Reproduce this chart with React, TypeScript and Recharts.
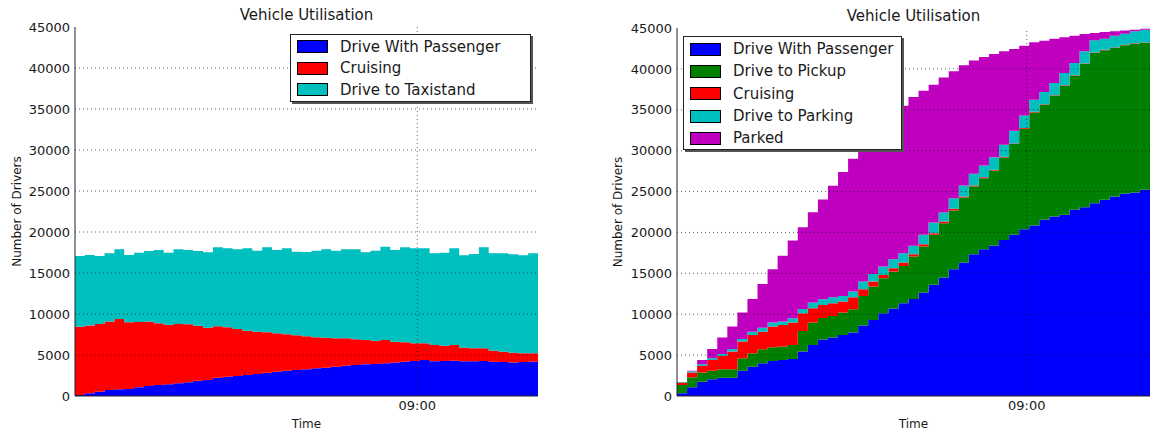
import React from 'react';
import { AreaChart, Area, XAxis, YAxis, ReferenceLine } from 'recharts';

// x is measured in 5-minute bins from the start of the run; 09:00 falls inside bin 34
const yTicks = [0, 5000, 10000, 15000, 20000, 25000, 30000, 35000, 40000, 45000];
const gridValues = [5000, 10000, 15000, 20000, 25000, 30000, 35000, 40000];
const timeTicks = [34.75];
const timeTickLabels = ['09:00'];

// left panel
const leftPassenger = [
  120, 325, 530, 730, 810, 850, 1060, 1220, 1340, 1420, 1540, 1670, 1870, 1950, 2240, 2360,
  2440, 2560, 2680, 2850, 2970, 3090, 3170, 3250, 3370, 3450, 3580, 3700, 3780, 3860, 3900, 3980,
  4100, 4190, 4270, 4390, 4230, 4270, 4310, 4230, 4230, 4270, 4190, 4150, 4100, 4150, 4190,
];
const leftCruising = [
  8330, 8260, 8250, 8370, 8580, 8130, 7960, 7850, 7520, 7280, 7240, 7070, 6710, 6380, 6260, 6010,
  5730, 5410, 5170, 4920, 4670, 4430, 4230, 4030, 3780, 3660, 3450, 3330, 3130, 2970, 2850, 2850,
  2530, 2350, 2150, 2030, 1990, 1870, 1910, 1660, 1580, 1540, 1340, 1260, 1180, 1050, 1010,
];
const leftTaxistand = [
  8620, 8610, 8290, 8300, 8500, 8210, 8460, 8610, 8940, 8780, 9110, 9060, 9100, 9190, 9630, 9640,
  9720, 10040, 9870, 10360, 10160, 10490, 10200, 10270, 10570, 10780, 10690, 10860, 10980, 10690, 10970, 11380,
  11170, 11590, 11590, 11590, 11180, 11340, 11790, 11260, 11510, 12320, 11870, 11990, 12000, 11950, 12200,
];

// right panel
const rightPassenger = [
  350, 1060, 1750, 2040, 2240, 2240, 3100, 3590, 4000, 4280, 4410, 4530, 5430, 6240, 6900, 7140,
  7470, 7750, 8610, 9300, 10120, 10690, 11340, 11870, 12650, 13590, 14480, 15500, 16320, 17340, 17950, 18400,
  19090, 19710, 20400, 20850, 21540, 21950, 22150, 22770, 23090, 23580, 23990, 24400, 24720, 24890, 25210,
];
const rightPickup = [
  1000, 1220, 1110, 1060, 1020, 1020, 1510, 1630, 1710, 1680, 1630, 1710, 2530, 2740, 2650, 2650,
  2730, 2860, 3630, 4080, 4280, 4530, 4570, 5180, 5630, 6120, 6650, 7180, 7960, 8280, 8690, 9180,
  10080, 11090, 12280, 13830, 14080, 14770, 15790, 16400, 17510, 18360, 18280, 18150, 18160, 18190, 17960,
];
const rightCruising = [
  300, 580, 810, 1310, 1640, 2170, 2040, 2250, 2160, 2530, 2650, 2740, 2160, 1750, 1590, 1550,
  1350, 1470, 820, 610, 410, 410, 410, 290, 280, 200, 210, 210, 120, 120, 100, 100,
  90, 80, 80, 70, 70, 70, 60, 60, 60, 60, 60, 60, 60, 60, 60,
];
const rightParking = [
  70, 160, 210, 200, 240, 320, 330, 400, 490, 490, 410, 530, 530, 690, 690, 740,
  690, 690, 930, 940, 1020, 1100, 1140, 1020, 1150, 1310, 1100, 1300, 1340, 1430, 1450, 1530,
  1460, 1560, 1550, 1480, 1480, 1480, 1490, 1490, 1490, 1490, 1370, 1450, 1370, 1460, 1570,
];
const rightParked = [
  0, 80, 530, 1140, 2000, 2740, 3220, 4000, 5350, 6520, 8040, 9500, 9990, 11060, 12200, 13640,
  15140, 16240, 16610, 17170, 17770, 18070, 18040, 18200, 17620, 16850, 16520, 15510, 14690, 13870, 13260, 12610,
  11430, 9990, 8530, 7020, 6280, 5430, 4370, 3340, 2120, 900, 810, 540, 370, 200, 120,
];

const FONT = '"DejaVu Sans", Verdana, sans-serif';
const TEXT = '#1a1a1a';

type Series = { key: string; name: string; color: string; values: number[] };

const leftSeries: Series[] = [
  { key: 'passenger', name: 'Drive With Passenger', color: '#0000ff', values: leftPassenger },
  { key: 'cruising', name: 'Cruising', color: '#ff0000', values: leftCruising },
  { key: 'taxistand', name: 'Drive to Taxistand', color: '#00bfbf', values: leftTaxistand },
];

const rightSeries: Series[] = [
  { key: 'passenger', name: 'Drive With Passenger', color: '#0000ff', values: rightPassenger },
  { key: 'pickup', name: 'Drive to Pickup', color: '#008000', values: rightPickup },
  { key: 'cruising', name: 'Cruising', color: '#ff0000', values: rightCruising },
  { key: 'parking', name: 'Drive to Parking', color: '#00bfbf', values: rightParking },
  { key: 'parked', name: 'Parked', color: '#bf00bf', values: rightParked },
];

const buildRows = (series: Series[]) => {
  const rows = series[0].values.map((_, i) => {
    const row: Record<string, number> = { t: i };
    series.forEach((s) => { row[s.key] = s.values[i]; });
    return row;
  });
  // closing point so the last step runs to the right spine
  rows.push({ ...rows[rows.length - 1], t: rows.length });
  return rows;
};

interface PanelProps {
  series: Series[];
  left: number;
  width: number;
  axisWidth: number;
  marginTop: number;
  marginRight: number;
  yLabelOffset: number;
  legend: { left: number; top: number; width: number; rowH: number };
}

const LegendBox = ({ series, rowH, style }: { series: Series[]; rowH: number; style: React.CSSProperties }) => (
  <div
    style={{
      position: 'absolute',
      background: '#fff',
      border: '1px solid #222',
      boxShadow: '2px 2px 0 #555',
      boxSizing: 'border-box',
      padding: '1px 0 0 6px',
      fontFamily: FONT,
      fontSize: 15,
      color: TEXT,
      ...style,
    }}
  >
    {series.map((s) => (
      <div key={s.key} style={{ display: 'flex', alignItems: 'center', height: rowH, whiteSpace: 'nowrap' }}>
        <span
          style={{
            display: 'inline-block',
            width: 31,
            height: 13,
            background: s.color,
            border: '1px solid #000',
            boxSizing: 'border-box',
            marginRight: 12,
          }}
        />
        <span>{s.name}</span>
      </div>
    ))}
  </div>
);

const Panel: React.FC<PanelProps> = ({ series, left, width, axisWidth, marginTop, marginRight, yLabelOffset, legend }) => {
  const rows = buildRows(series);
  const plotLeft = axisWidth;
  const plotRight = width - marginRight;
  return (
    <div style={{ position: 'absolute', left, top: 0, width, height: 433 }}>
      <div
        style={{
          position: 'absolute',
          left: plotLeft,
          width: plotRight - plotLeft,
          top: marginTop - 21,
          height: 18,
          lineHeight: '18px',
          textAlign: 'center',
          fontFamily: FONT,
          fontSize: 15,
          color: TEXT,
        }}
      >
        Vehicle Utilisation
      </div>
      <AreaChart
        width={width}
        height={433}
        data={rows}
        margin={{ top: marginTop, right: marginRight, bottom: 0, left: 0 }}
      >
        <XAxis
          dataKey="t"
          type="number"
          domain={[0, series[0].values.length]}
          ticks={timeTicks}
          tickFormatter={(v: number) => timeTickLabels[timeTicks.indexOf(v)] ?? ''}
          height={37}
          tickSize={0}
          tickMargin={5}
          tickLine={false}
          axisLine={{ stroke: '#222' }}
          tick={{ fill: TEXT, fontSize: 13, fontFamily: FONT }}
          allowDataOverflow
          label={{ value: 'Time', position: 'insideBottom', offset: 5, fill: TEXT, fontSize: 12, fontFamily: FONT }}
        />
        <XAxis xAxisId="top" orientation="top" dataKey="t" type="number" domain={[0, series[0].values.length]} height={0} tick={false} tickLine={false} axisLine={{ stroke: '#222' }} />
        <YAxis
          domain={[0, 45000]}
          ticks={yTicks}
          width={axisWidth}
          tickSize={0}
          tickMargin={5}
          tickLine={false}
          axisLine={{ stroke: '#222' }}
          tick={{ fill: TEXT, fontSize: 13, fontFamily: FONT }}
          allowDataOverflow
          label={{
            value: 'Number of Drivers',
            angle: -90,
            position: 'insideLeft',
            offset: yLabelOffset,
            fill: TEXT,
            fontSize: 12,
            fontFamily: FONT,
            style: { textAnchor: 'middle' },
          }}
        />
        <YAxis yAxisId="right" orientation="right" domain={[0, 45000]} width={0} tick={false} tickLine={false} axisLine={{ stroke: '#222' }} />

        {series.map((s) => (
          <Area
            key={s.key}
            type="stepAfter"
            dataKey={s.key}
            name={s.name}
            stackId="state"
            stroke="none"
            fill={s.color}
            fillOpacity={1}
            isAnimationActive={false}
          />
        ))}

        {/* matplotlib draws its dotted grid over the fills */}
        {gridValues.map((v) => (
          <ReferenceLine key={v} y={v} stroke="#000" strokeDasharray="1 3" strokeOpacity={0.6} />
        ))}
        {timeTicks.map((v) => (
          <ReferenceLine key={`x${v}`} x={v} stroke="#000" strokeDasharray="1 3" strokeOpacity={0.6} />
        ))}
      </AreaChart>
      <LegendBox
        series={series}
        rowH={legend.rowH}
        style={{ left: legend.left, top: legend.top, width: legend.width }}
      />
    </div>
  );
};

export default function App() {
  return (
    <div style={{ position: 'absolute', left: 0, top: 0, width: 1152, height: 433, background: '#fff' }}>
      <Panel
        series={leftSeries}
        left={0}
        width={560}
        axisWidth={75}
        marginTop={27}
        marginRight={22}
        yLabelOffset={17}
        legend={{ left: 290, top: 34, width: 241, rowH: 21.5 }}
      />
      <Panel
        series={rightSeries}
        left={590}
        width={562}
        axisWidth={87}
        marginTop={28}
        marginRight={2}
        yLabelOffset={28}
        legend={{ left: 93, top: 36, width: 219, rowH: 22.3 }}
      />
    </div>
  );
}
